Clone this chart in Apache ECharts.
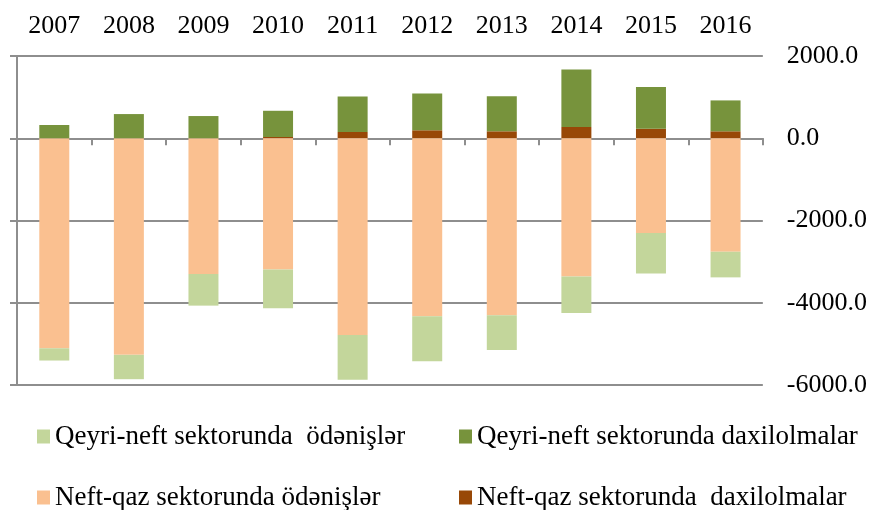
<!DOCTYPE html>
<html>
<head>
<meta charset="utf-8">
<script src="https://cdn.jsdelivr.net/npm/echarts@6/dist/echarts.min.js"></script>
<style>html,body{margin:0;padding:0;background:#fff}#c{width:870px;height:510px}</style>
</head>
<body>
<div id="c"></div>
<script>
const years = ['2007','2008','2009','2010','2011','2012','2013','2014','2015','2016'];
const neftDaxil = [0, 0, 0, 30, 153, 194, 169, 274, 232, 169];
const neftOdenis = [-5107, -5267, -3301, -3189, -4782, -4330, -4306, -3359, -2306, -2760];
const qeyriDaxil = [322, 588, 540, 638, 864, 896, 855, 1397, 1017, 751];
const qeyriOdenis = [-298, -592, -769, -947, -1092, -1092, -840, -889, -980, -623];
const yTicks = [-6000, -4000, -2000, 0, 2000];

const names = {
  qo: 'Qeyri-neft sektorunda  ödənişlər',
  qd: 'Qeyri-neft sektorunda daxilolmalar',
  no: 'Neft-qaz sektorunda ödənişlər',
  nd: 'Neft-qaz sektorunda  daxilolmalar'
};
const colors = { qo: '#c3d69b', qd: '#77933c', no: '#fac090', nd: '#984807' };
const FONT = "'Liberation Serif', 'Times New Roman', serif";
const lineColor = '#8e8e8e';

const chart = echarts.init(document.getElementById('c'), null, { renderer: 'canvas' });

function legendAt(key, left, top) {
  return {
    data: [names[key]], left: left, top: top, orient: 'horizontal',
    itemWidth: 13, itemHeight: 14, icon: 'rect', selectedMode: false,
    textStyle: { fontFamily: FONT, fontSize: 27, color: '#000' }, padding: 0
  };
}

function bar(key, data) {
  return {
    name: names[key], type: 'bar', stack: 'all', data: data,
    xAxisIndex: 1, yAxisIndex: 0, barWidth: 30,
    itemStyle: { color: colors[key] }, emphasis: { disabled: true }
  };
}

chart.setOption({
  animation: false,
  grid: { left: 17, right: 107, top: 56, bottom: 125 },
  legend: [
    legendAt('qo', 37, 423),
    legendAt('qd', 459, 423),
    legendAt('no', 37, 484),
    legendAt('nd', 459, 484)
  ],
  xAxis: [
    {
      type: 'category', data: years, position: 'top',
      axisLine: { show: false }, axisTick: { show: false },
      axisLabel: { fontFamily: FONT, fontSize: 26, color: '#000', margin: 17 }
    },
    {
      type: 'category', data: years, position: 'bottom',
      axisLine: { show: true, onZero: true, lineStyle: { color: lineColor, width: 2 } },
      axisTick: { show: true, length: 7, lineStyle: { color: lineColor, width: 2 } },
      axisLabel: { show: false }
    }
  ],
  yAxis: [
    {
      type: 'value', min: yTicks[0], max: yTicks[yTicks.length - 1], interval: 2000,
      position: 'left',
      axisLine: { show: true, lineStyle: { color: lineColor, width: 2 } },
      axisTick: { show: true, length: 7, lineStyle: { color: lineColor, width: 2 } },
      axisLabel: { show: false },
      splitLine: { show: true, lineStyle: { color: lineColor, width: 2 } }
    },
    {
      type: 'value', min: yTicks[0], max: yTicks[yTicks.length - 1], interval: 2000,
      position: 'right',
      axisLine: { show: false }, axisTick: { show: false },
      splitLine: { show: false },
      axisLabel: { fontFamily: FONT, fontSize: 26, color: '#000', margin: 24,
        verticalAlign: 'middle', lineHeight: 26, padding: [6, 0, 0, 0],
        formatter: v => v.toFixed(1) }
    }
  ],
  series: [
    bar('nd', neftDaxil),
    bar('no', neftOdenis),
    bar('qd', qeyriDaxil),
    bar('qo', qeyriOdenis)
  ]
});
</script>
</body>
</html>
